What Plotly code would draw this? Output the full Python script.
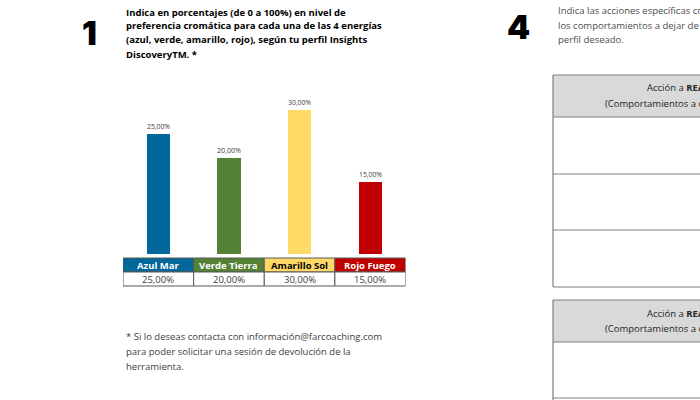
import plotly.graph_objects as go

## data
energias = ["Azul Mar", "Verde Tierra", "Amarillo Sol", "Rojo Fuego"]
porcentajes = [25, 20, 30, 15]
colores = ["#02679b", "#548235", "#ffd966", "#c00000"]
color_texto_cabecera = ["white", "white", "black", "white"]

titulo = ["Indica en porcentajes (de 0 a 100%) en nivel de",
          "preferencia cromática para cada una de las 4 energías",
          "(azul, verde, amarillo, rojo), según tu perfil Insights",
          "DiscoveryTM. *"]
nota = ["* Si lo deseas contacta con información@farcoaching.com",
        "para poder solicitar una sesión de devolución de la",
        "herramienta."]
texto_4 = ["Indica las acciones específicas con las que vas a reforzar",
           "los comportamientos a dejar de hacer para alcanzar tu",
           "perfil deseado."]

W, H = 700, 400
def px(x): return x / W
def py(y): return 1 - y / H

etiquetas = [f"{v:.2f}%".replace(".", ",") for v in porcentajes]
FONT = "Open Sans"

fig = go.Figure()
fig.add_trace(go.Bar(x=energias, y=porcentajes, width=0.33, marker=dict(color=colores, line=dict(width=0)),
                     text=etiquetas, textposition="outside", cliponaxis=False,
                     textfont=dict(family=FONT, size=8.5, color="#404040"), showlegend=False))

# bar area: baseline at y=254 px, 24 px per 5 %
top_px = 70
fig.update_xaxes(domain=[px(123), px(405.5)], range=[-0.5, 3.5], showticklabels=False, showgrid=False,
                 zeroline=False, showline=False)
fig.update_yaxes(domain=[py(254), py(top_px)], range=[0, (254 - top_px) / 4.8], visible=False)

def texto(x, y, t, size, color, family=FONT, weight=None, xref="paper", xanchor="left"):
    f = dict(family=family, size=size, color=color)
    if weight:
        f["weight"] = weight
    return dict(x=x if xref != "paper" else px(x), y=py(y), xref=xref, yref="paper", text=t,
                xanchor=xanchor, yanchor="middle", showarrow=False, font=f)

ann = []
shapes = []

# small table under the bars, one column per category on the x axis
for i, e in enumerate(energias):
    shapes.append(dict(type="rect", xref="x", yref="paper", x0=i - 0.5, x1=i + 0.5, y0=py(272), y1=py(258),
                       fillcolor=colores[i], line=dict(color="#595959", width=1)))
    shapes.append(dict(type="rect", xref="x", yref="paper", x0=i - 0.5, x1=i + 0.5, y0=py(286), y1=py(272),
                       fillcolor="white", line=dict(color="#595959", width=1)))
    ann.append(texto(e, 265, f"<b>{e}</b>", 9.5, color_texto_cabecera[i], xref="x", xanchor="center"))
    ann.append(texto(e, 279.5, etiquetas[i], 9.5, "#404040", xref="x", xanchor="center"))

# big section numbers
ann.append(texto(80, 33, "1", 33, "black", "Inter", 900))
ann.append(texto(505, 27, "4", 33, "black", "Inter", 900))
for i, t in enumerate(titulo):
    ann.append(texto(124, 12 + i * 14, f"<b>{t}</b>", 9.5, "black"))
for i, t in enumerate(nota):
    ann.append(texto(124, 336 + i * 15, t, 9.5, "#404040"))
for i, t in enumerate(texto_4):
    ann.append(texto(556, 11 + i * 14.5, t, 9.5, "#4d4d4d"))

# right side empty tables
def linea(x0, y0, x1, y1):
    return dict(type="line", xref="paper", yref="paper", x0=px(x0), x1=px(x1), y0=py(y0), y1=py(y1),
                line=dict(color="#7f7f7f", width=1.2))

for top, filas in [(75, [117, 174, 230, 287]), (300, [342, 398])]:
    bottom = filas[-1]
    shapes.append(dict(type="rect", xref="paper", yref="paper", x0=px(553), x1=px(760), y0=py(top), y1=py(filas[0]),
                       fillcolor="#d9d9d9", line=dict(width=0), layer="below"))
    shapes.append(linea(553, top, 553, bottom if bottom < 390 else 405))
    shapes.append(linea(553, top, 760, top))
    for f in filas:
        shapes.append(linea(553, f, 760, f))
    ann.append(texto(645, top + 13, "Acción a <b>REALIZAR</b>", 9.5, "#262626"))
    ann.append(texto(603, top + 28, "(Comportamientos a empezar a hacer)", 9.5, "#262626"))

fig.update_layout(width=W, height=H, margin=dict(l=0, r=0, t=0, b=0), paper_bgcolor="white", plot_bgcolor="white",
                  annotations=ann, shapes=shapes, bargap=0)

fig.write_html("out.html", config={"displayModeBar": False}, post_script="document.body.style.margin='0';")
